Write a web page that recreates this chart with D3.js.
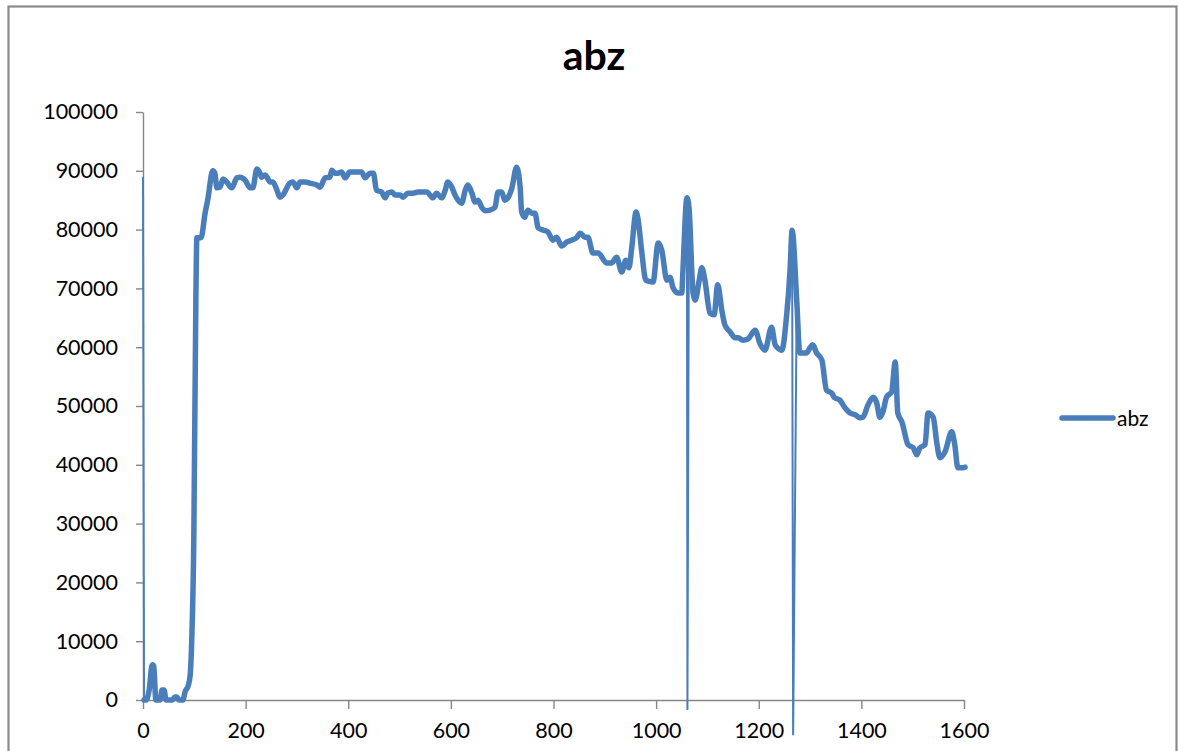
<!DOCTYPE html>
<html>
<head>
<meta charset="utf-8">
<script src="https://cdn.jsdelivr.net/npm/d3@7"></script>
<style>
  html, body { margin: 0; padding: 0; background: #fff; }
  svg { display: block; }
  .tick text { font-family: Lato, "Open Sans", sans-serif; fill: #000; }
</style>
</head>
<body>
<svg id="chart" width="1179" height="751"></svg>
<script>
// Series "abz": sample positions and readings
const xs = [0,2,6,12,18,21,25,33,37,41,45,57,62,66,70,78,82,88,92,95,99,103,105,113,121,127,134,136,140,144,150,156,163,173,183,189,199,209,214,222,228,231,238,248,253,261,267,273,286,292,300,306,316,325,339,345,355,364,368,374,380,387,394,403,413,419,426,433,442,449,455,465,472,477,485,491,501,507,516,526,536,553,563,565,572,582,589,594,602,608,614,621,628,633,641,647,653,660,667,676,686,692,699,705,711,719,728,735,738,744,750,758,764,770,780,789,799,806,816,826,835,845,852,861,867,877,887,904,913,923,933,941,947,952,961,965,972,980,994,1004,1011,1021,1027,1033,1043,1050,1052,1060,1061,1064,1072,1076,1084,1089,1095,1105,1113,1120,1128,1134,1144,1154,1160,1169,1179,1193,1202,1212,1225,1232,1245,1254,1261,1265,1267,1274,1280,1293,1300,1305,1313,1323,1332,1342,1348,1358,1368,1378,1388,1397,1403,1413,1423,1430,1436,1442,1449,1459,1466,1471,1479,1491,1501,1508,1514,1524,1530,1540,1547,1553,1563,1576,1582,1588,1598,1602];
const values = [89000,0,0,1700,6000,5800,0,0,1700,1700,0,0,500,500,0,0,1400,2400,4300,10200,27200,68000,78600,78600,82800,85500,89600,90000,89600,87100,87200,88600,88100,87100,88800,88900,88400,87100,87100,90300,89600,88900,89300,88100,88100,86700,85500,85900,87900,88100,87100,88100,88100,87900,87600,87200,88800,88900,90100,89600,89600,89800,88800,89800,89800,89800,89800,88800,89600,89600,86700,86400,85400,86200,86400,85900,85900,85500,86200,86200,86400,86400,85500,85400,86200,85400,86700,88100,87200,85900,85000,84500,86700,87600,86200,84700,85000,83800,83200,83300,83800,86400,86400,85000,85400,87100,90600,87200,83000,82100,83300,82800,82800,80300,79900,79600,78200,78700,77200,77900,78200,78600,79400,78700,78700,76000,76000,74300,74300,75300,72800,74800,73500,76500,83000,81600,76200,71400,71100,77700,76500,71400,71900,70100,69200,69200,72600,85400,-1700,83800,69200,68000,71400,73500,71400,65800,65500,70600,66300,63800,62600,61600,61600,61200,61400,62900,60700,59500,63400,60400,59500,65100,73100,79900,-6000,68000,59000,59000,59900,60400,59000,57800,52700,52200,51400,51000,49700,48800,48500,48000,48100,50200,51500,50500,48100,49000,51500,52400,57500,48800,47300,43400,42900,41700,42900,43400,48800,48100,43700,41200,42200,45600,43400,39500,39500,39600];
// Samples recorded as sensor dropouts (drawn as thin strokes)
const dropoutXs = [0, 1061, 1267];

const xTicks = [0,200,400,600,800,1000,1200,1400,1600];
const yTicks = [0,10000,20000,30000,40000,50000,60000,70000,80000,90000,100000];
const seriesName = "abz";
const chartTitle = "abz";

const lineColor = "#4A7EBB";
const axisColor = "#868686";

const svg = d3.select("#chart");

// outer chart frame
svg.append("rect")
  .attr("x", 8.5).attr("y", 6.5)
  .attr("width", 1168).attr("height", 760)
  .attr("fill", "none").attr("stroke", "#8a8a8a").attr("stroke-width", 2.2);

const x = d3.scaleLinear().domain([0, 1600]).range([143, 964]);
const y = d3.scaleLinear().domain([0, 100000]).range([700, 112]);

// title
svg.append("text")
  .attr("x", 594).attr("y", 70)
  .attr("text-anchor", "middle")
  .style("font-family", "Lato, 'Open Sans', sans-serif")
  .style("font-weight", "700")
  .style("font-size", "41px")
  .text(chartTitle);

// axes
const yAxis = svg.append("g")
  .attr("transform", `translate(${x(0)},0)`)
  .call(d3.axisLeft(y).tickValues(yTicks).tickFormat(d3.format("d"))
    .tickSize(7).tickSizeOuter(0).tickPadding(18));
const xAxis = svg.append("g")
  .attr("transform", `translate(0,${y(0)})`)
  .call(d3.axisBottom(x).tickValues(xTicks).tickFormat(d3.format("d"))
    .tickSize(9).tickSizeOuter(0).tickPadding(14));

[yAxis, xAxis].forEach(g => {
  g.select(".domain").attr("stroke", axisColor).attr("stroke-width", 1.4);
  g.selectAll(".tick line").attr("stroke", axisColor).attr("stroke-width", 1.4);
  g.selectAll(".tick text").style("font-size", "21.5px");
});

const data = xs.map((d, i) => ({ x: d, v: values[i], drop: dropoutXs.includes(d) }));

const smooth = d3.line().x(d => x(d.x)).y(d => y(d.v)).curve(d3.curveMonotoneX);
const straight = d3.line().x(d => x(d.x)).y(d => y(d.v));

// main trace, skipping the dropout samples
svg.append("path")
  .datum(data.filter(d => !d.drop))
  .attr("d", smooth)
  .attr("fill", "none")
  .attr("stroke", lineColor)
  .attr("stroke-width", 5.5)
  .attr("stroke-linejoin", "round")
  .attr("stroke-linecap", "round");

// dropout strokes: neighbour -> dropout -> neighbour
data.forEach((d, i) => {
  if (!d.drop) return;
  const seg = data.slice(Math.max(0, i - 1), Math.min(data.length, i + 2));
  svg.append("path")
    .datum(seg)
    .attr("d", straight)
    .attr("fill", "none")
    .attr("stroke", lineColor)
    .attr("stroke-width", 2)
    .attr("stroke-linejoin", "miter");
});

// legend
const legend = svg.append("g").attr("transform", "translate(1062,418)");
legend.append("line")
  .attr("x1", 0).attr("x2", 51).attr("y1", 0).attr("y2", 0)
  .attr("stroke", lineColor).attr("stroke-width", 5.5).attr("stroke-linecap", "round");
legend.append("text")
  .attr("x", 55).attr("y", 7.5)
  .style("font-family", "Lato, 'Open Sans', sans-serif")
  .style("font-size", "21px")
  .text(seriesName);
</script>
</body>
</html>
